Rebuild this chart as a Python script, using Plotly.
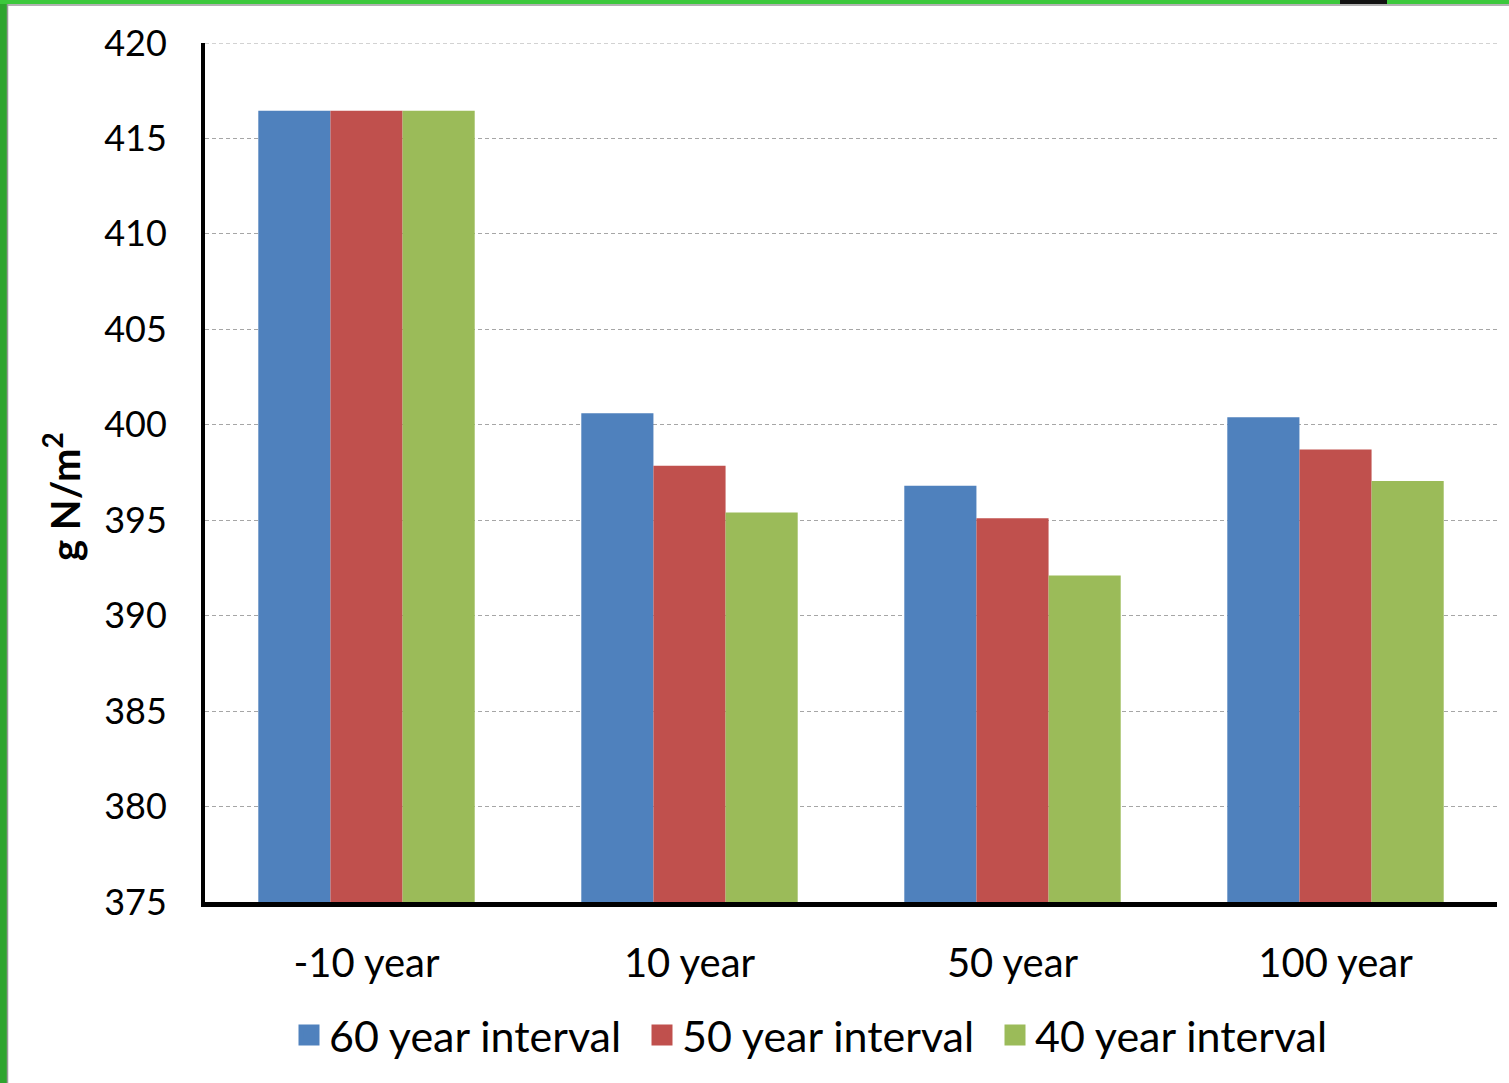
import plotly.graph_objects as go

categories = ["-10 year", "10 year", "50 year", "100 year"]
series_names = ["60 year interval", "50 year interval", "40 year interval"]
values_60 = [416.45, 400.6, 396.8, 400.4]
values_50 = [416.45, 397.85, 395.1, 398.7]
values_40 = [416.45, 395.4, 392.1, 397.05]
colors = ["#4F81BD", "#C0504D", "#9BBB59"]
y_ticks = [375, 380, 385, 390, 395, 400, 405, 410, 415, 420]
y_title = "<b>g N/m<sup>2</sup></b>"

W, H = 1509, 1083
L, R, T, B = 205, 12, 43, 181
FONT = "Lato"
GRID_COLOR = "#a6a6a6"

fig = go.Figure()
for name, vals, col in zip(series_names, [values_60, values_50, values_40], colors):
    fig.add_trace(go.Bar(
        x=categories, y=vals, name=name, showlegend=False,
        marker=dict(color=col, line=dict(width=0)),
    ))

for name, col in zip(series_names, colors):
    fig.add_trace(go.Scatter(
        x=[None], y=[None], mode="markers", name=name,
        marker=dict(symbol="square", size=16, color=col, line=dict(color=col, width=5)),
    ))

pw = W - L - R
ph = H - T - B
def px_x(p):
    return (p - L) / pw
def px_y(p):
    return (H - B - p) / ph

shapes = [
    # top gridline (plotly omits the gridline on the plot edge)
    dict(type="line", xref="paper", yref="y", x0=0, x1=1, y0=max(y_ticks), y1=max(y_ticks),
         line=dict(color=GRID_COLOR, width=1, dash="4px,3px"), layer="below"),
    dict(type="rect", xref="paper", yref="paper", x0=px_x(0), x1=px_x(7), y0=px_y(H), y1=px_y(0),
         fillcolor="#2ea52e", line=dict(width=0), layer="above"),
    dict(type="rect", xref="paper", yref="paper", x0=px_x(0), x1=px_x(W), y0=px_y(4), y1=px_y(0),
         fillcolor="#3cc83c", line=dict(width=0), layer="above"),
    dict(type="line", xref="paper", yref="paper", x0=px_x(7.5), x1=px_x(7.5), y0=px_y(H), y1=px_y(4),
         line=dict(color="#999999", width=1.5), layer="above"),
    dict(type="line", xref="paper", yref="paper", x0=px_x(7), x1=px_x(W), y0=px_y(5), y1=px_y(5),
         line=dict(color="#999999", width=1.5), layer="above"),
    dict(type="rect", xref="paper", yref="paper", x0=px_x(1340), x1=px_x(1387), y0=px_y(4), y1=px_y(0),
         fillcolor="#111111", line=dict(width=0), layer="above"),
]

fig.update_layout(
    width=W, height=H,
    margin=dict(l=L, r=R, t=T, b=B, autoexpand=False),
    paper_bgcolor="white", plot_bgcolor="white",
    barmode="group", bargap=0.33, bargroupgap=0,
    font=dict(family=FONT, color="black"),
    showlegend=True,
    legend=dict(orientation="h", x=px_x(289), xanchor="left", y=px_y(1035), yanchor="middle",
                font=dict(size=43, family=FONT, color="black"), entrywidth=308,
                bgcolor="rgba(0,0,0,0)"),
    shapes=shapes,
    annotations=[dict(text=y_title, xref="paper", yref="paper", x=px_x(62), y=px_y(497),
                      xanchor="center", yanchor="middle", textangle=-90, showarrow=False,
                      font=dict(size=40, family=FONT, color="black"))],
)

fig.update_yaxes(
    range=[375, 420], tickvals=y_ticks, ticktext=[str(v) for v in y_ticks],
    showgrid=True, gridcolor=GRID_COLOR, gridwidth=1, griddash="4px,3px",
    showline=True, linecolor="black", linewidth=4, ticks="", ticklabelstandoff=27,
    tickfont=dict(size=36, family=FONT, color="black"), zeroline=False,
    automargin=False,
)
fig.update_xaxes(
    showline=True, linecolor="black", linewidth=5, ticks="", ticklabelstandoff=22,
    tickfont=dict(size=40, family=FONT, color="black"), showgrid=False, automargin=False,
)

fig.write_html("out.html", config={"displayModeBar": False},
               post_script="document.body.style.margin='0';document.body.style.overflow='hidden';")
